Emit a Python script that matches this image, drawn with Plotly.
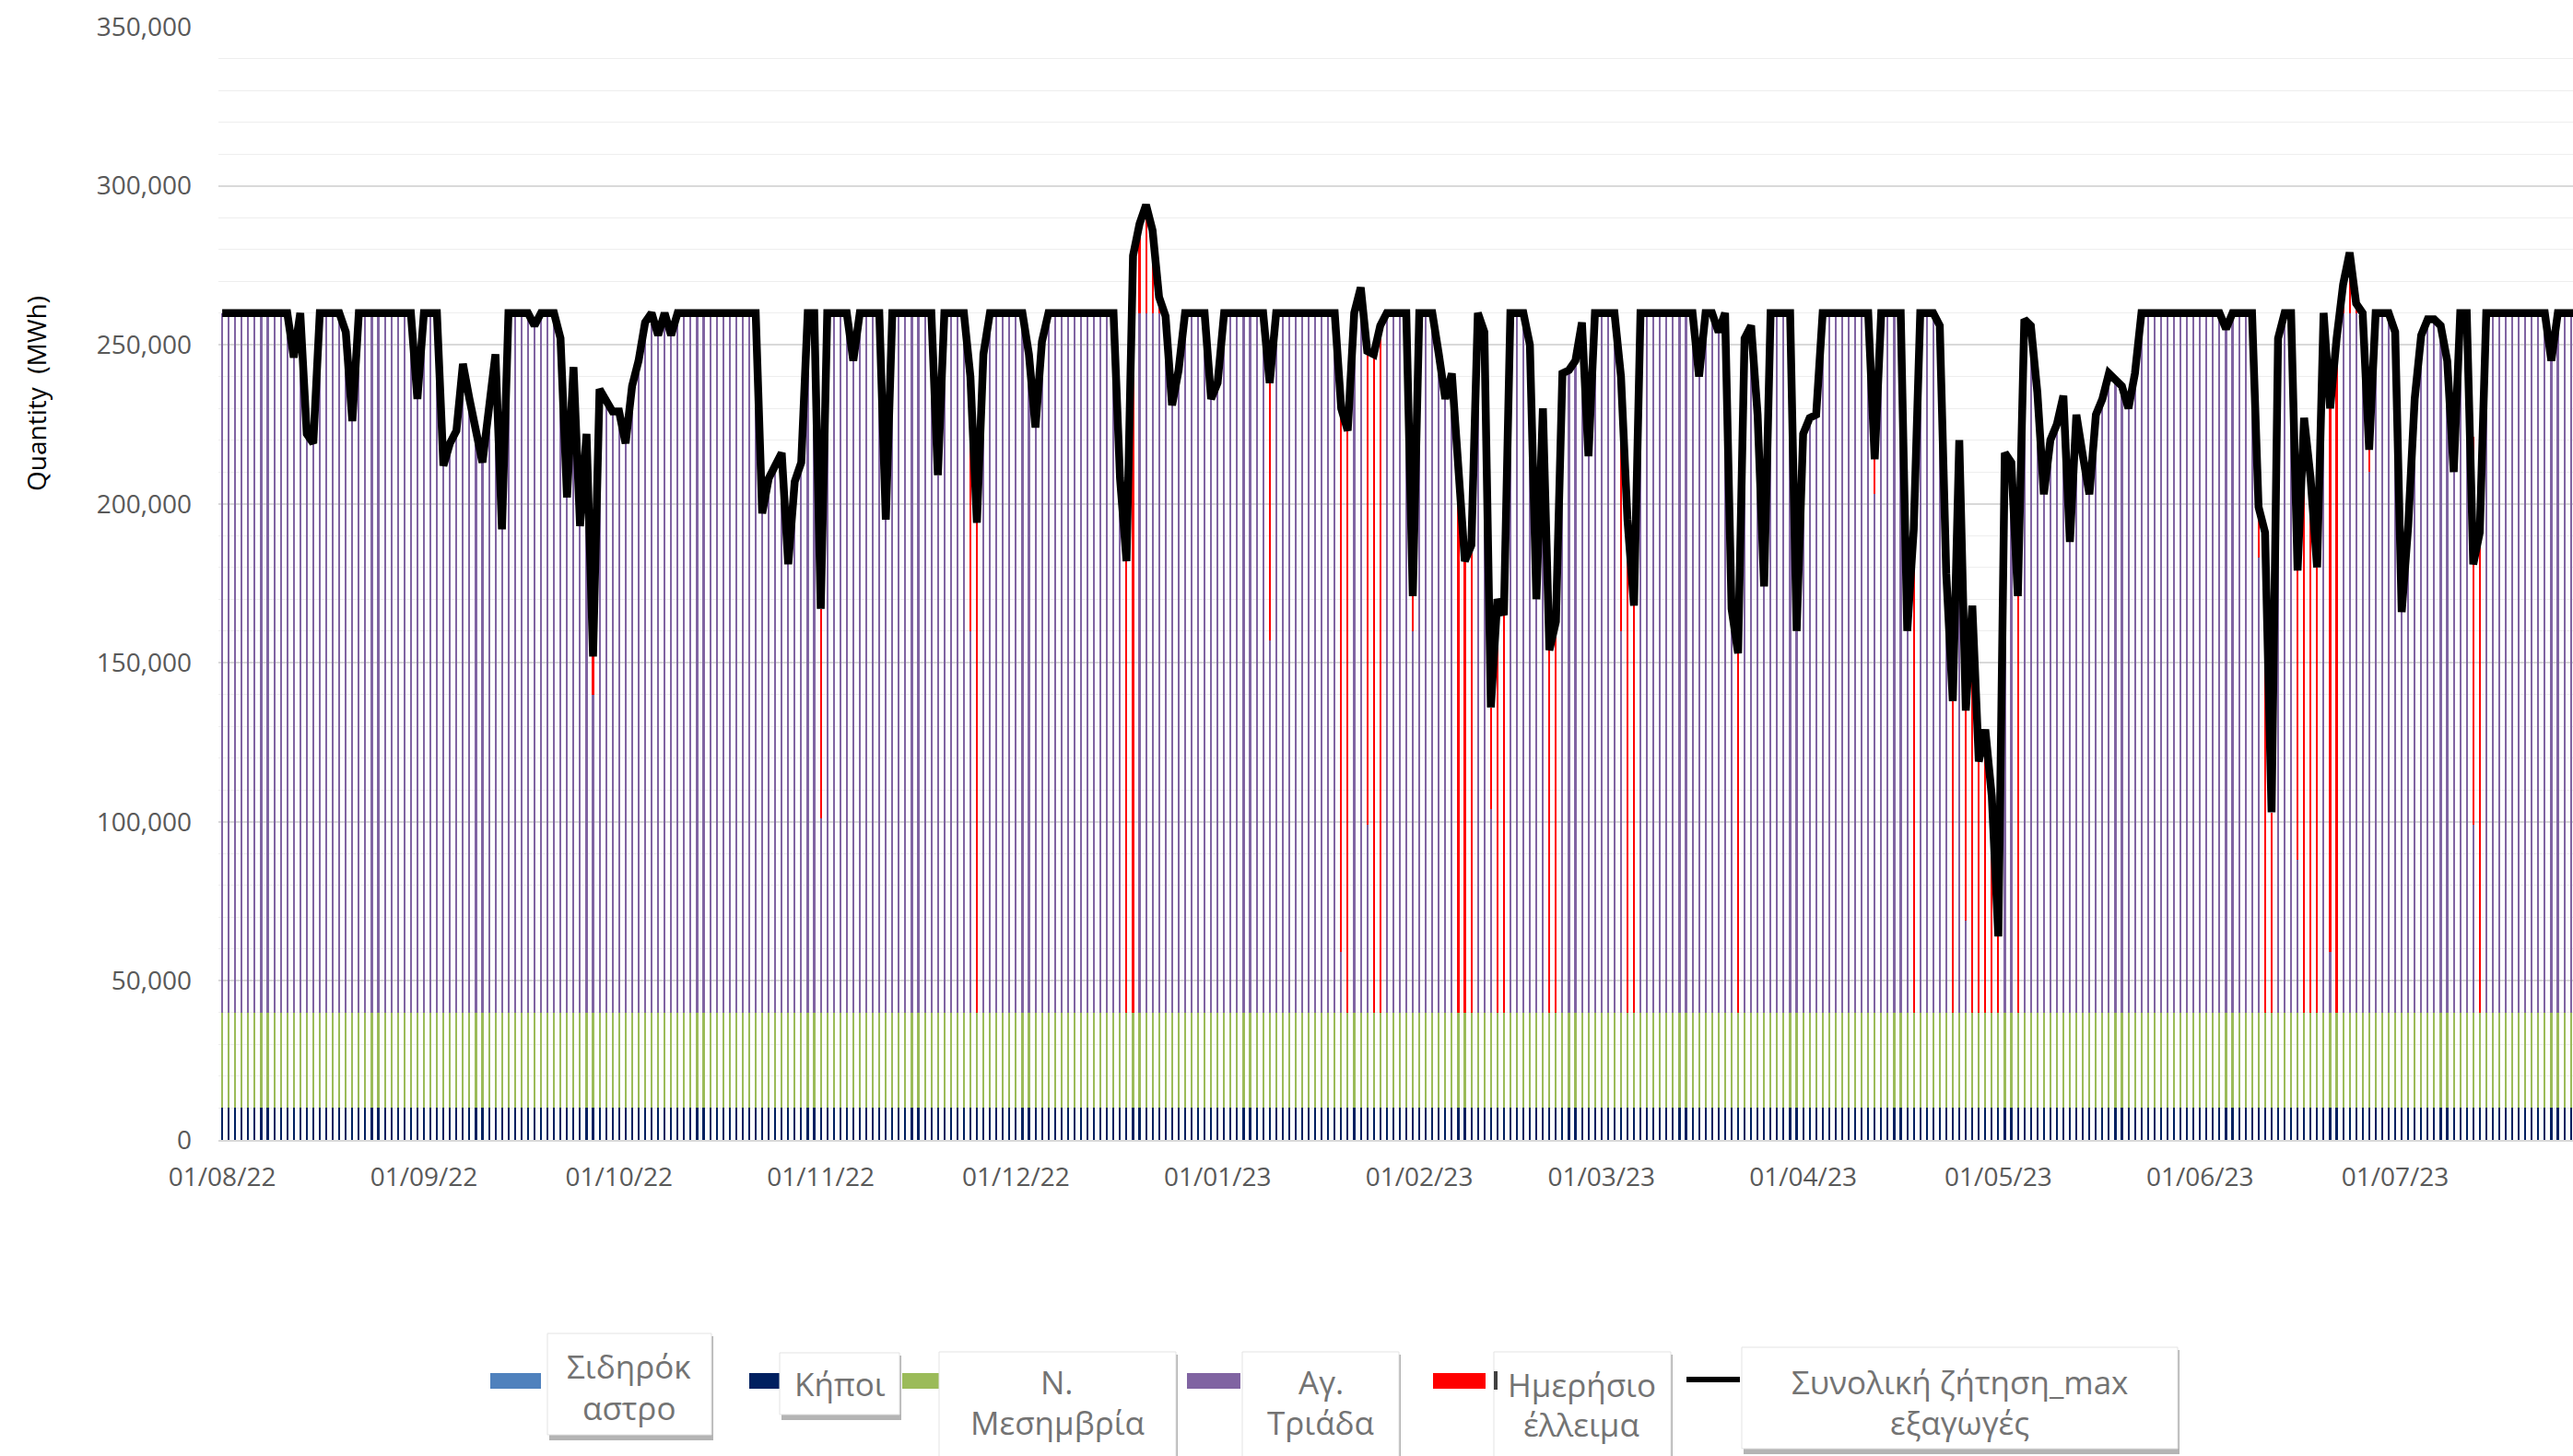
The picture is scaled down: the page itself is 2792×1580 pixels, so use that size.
import plotly.graph_objects as go
import pandas as pd

# ---------------- DATA (thousand MWh, one value per day 01/08/22 .. 31/07/23) ----------------
dates = pd.date_range("2022-08-01", "2023-07-31", freq="D")

# Συνολική ζήτηση_max εξαγωγές
demand_k = [
    # Aug 22
    260, 260, 260, 260, 260, 260, 260, 260, 260, 260, 260,
    246, 260, 222, 219, 260, 260, 260, 260, 254, 226,
    260, 260, 260, 260, 260, 260, 260, 260, 260, 233,
    # Sep 22
    260, 260, 260, 212, 219, 223, 244, 233, 223, 213,
    230, 247, 192, 260, 260, 260, 260, 256, 260, 260,
    260, 252, 202, 243, 193, 222, 152, 236, 233, 229,
    # Oct 22
    229, 219, 237, 245, 257, 260, 253, 260, 253, 260,
    260, 260, 260, 260, 260, 260, 260, 260, 260, 260,
    260, 260, 197, 208, 212, 216, 181, 207, 213, 260,
    260,
    # Nov 22
    167, 260, 260, 260, 260, 245, 260, 260, 260, 260,
    195, 260, 260, 260, 260, 260, 260, 260, 209, 260,
    260, 260, 260, 240, 194, 247, 260, 260, 260, 260,
    # Dec 22
    260, 260, 247, 224, 251, 260, 260, 260, 260, 260,
    260, 260, 260, 260, 260, 260, 208, 182, 278, 288,
    294, 286, 265, 259, 231, 242, 260, 260, 260, 260,
    233,
    # Jan 23
    238, 260, 260, 260, 260, 260, 260, 260, 238, 260,
    260, 260, 260, 260, 260, 260, 260, 260, 260, 230,
    223, 260, 268, 248, 247, 256, 260, 260, 260, 260,
    171,
    # Feb 23
    260, 260, 260, 247, 233, 241, 215, 182, 187, 260,
    254, 136, 170, 165, 260, 260, 260, 250, 170, 230,
    154, 163, 241, 242, 245, 257, 215, 260,
    # Mar 23
    260, 260, 260, 240, 195, 168, 260, 260, 260, 260,
    260, 260, 260, 260, 260, 240, 260, 260, 254, 260,
    167, 153, 252, 256, 228, 174, 260, 260, 260, 260,
    160,
    # Apr 23
    222, 227, 228, 260, 260, 260, 260, 260, 260, 260,
    260, 214, 260, 260, 260, 260, 160, 192, 260, 260,
    260, 256, 178, 138, 220, 135, 168, 119, 129, 108,
    # May 23
    64, 216, 213, 171, 258, 256, 235, 203, 220, 225,
    234, 188, 228, 215, 203, 228, 233, 241, 239, 237,
    230, 241, 260, 260, 260, 260, 260, 260, 260, 260,
    260,
    # Jun 23
    260, 260, 260, 260, 255, 260, 260, 260, 260, 199,
    191, 103, 252, 260, 260, 179, 227, 208, 180, 260,
    230, 252, 269, 279, 263, 260, 217, 260, 260, 260,
    # Jul 23
    254, 166, 193, 233, 253, 258, 258, 256, 245, 210,
    260, 260, 181, 191, 260, 260, 260, 260, 260, 260,
    260, 260, 260, 260, 245, 260, 260, 260, 260, 260,
    260,
]

# Αγ. Τριάδα
agia_triada_k = [
    # Aug 22
    220, 220, 220, 220, 220, 220, 220, 220, 220, 220, 220,
    206, 220, 182, 179, 220, 220, 220, 220, 214, 186,
    220, 220, 220, 220, 220, 220, 220, 220, 220, 193,
    # Sep 22
    220, 220, 220, 172, 179, 183, 204, 193, 183, 173,
    190, 207, 152, 220, 220, 220, 220, 216, 220, 220,
    220, 212, 162, 203, 153, 182, 100, 196, 193, 189,
    # Oct 22
    189, 179, 197, 205, 217, 220, 213, 220, 213, 220,
    220, 220, 220, 220, 220, 220, 220, 220, 220, 220,
    220, 220, 157, 168, 172, 176, 141, 167, 173, 220,
    220,
    # Nov 22
    61, 220, 220, 220, 220, 205, 220, 220, 220, 220,
    155, 220, 220, 220, 220, 220, 220, 220, 169, 220,
    220, 220, 220, 120, 0, 207, 220, 220, 220, 220,
    # Dec 22
    220, 220, 207, 184, 211, 220, 220, 220, 220, 220,
    220, 220, 220, 220, 220, 220, 168, 0, 0, 220,
    220, 220, 220, 219, 191, 202, 220, 220, 220, 220,
    193,
    # Jan 23
    198, 220, 220, 220, 220, 220, 220, 220, 117, 220,
    220, 220, 220, 220, 220, 220, 220, 220, 220, 19,
    0, 220, 220, 59, 0, 0, 220, 220, 220, 220,
    120,
    # Feb 23
    220, 220, 220, 207, 193, 201, 0, 0, 0, 220,
    214, 64, 0, 0, 220, 220, 220, 210, 130, 190,
    0, 0, 201, 202, 205, 217, 175, 220,
    # Mar 23
    220, 220, 220, 120, 0, 0, 220, 220, 220, 220,
    220, 220, 220, 220, 220, 200, 220, 220, 214, 220,
    127, 0, 212, 216, 188, 134, 220, 220, 220, 220,
    120,
    # Apr 23
    182, 187, 188, 220, 220, 220, 220, 220, 220, 220,
    220, 163, 220, 220, 220, 220, 120, 0, 220, 220,
    220, 216, 138, 0, 180, 29, 0, 0, 0, 0,
    # May 23
    0, 176, 173, 0, 218, 216, 195, 163, 180, 185,
    194, 148, 188, 175, 163, 188, 193, 201, 199, 197,
    190, 201, 220, 220, 220, 220, 220, 220, 220, 220,
    220,
    # Jun 23
    220, 220, 220, 220, 215, 220, 220, 220, 220, 143,
    0, 0, 212, 220, 220, 48, 0, 0, 0, 220,
    19, 0, 220, 220, 220, 220, 170, 220, 220, 220,
    # Jul 23
    214, 126, 153, 193, 213, 218, 218, 216, 205, 170,
    220, 220, 59, 0, 220, 220, 220, 220, 220, 220,
    220, 220, 220, 220, 205, 220, 220, 220, 220, 220,
    220,
]

# Ημερήσιο έλλειμα
deficit_k = [
    # Aug 22
    0, 0, 0, 0, 0, 0, 0, 0, 0, 0, 0,
    0, 0, 0, 0, 0, 0, 0, 0, 0, 0,
    0, 0, 0, 0, 0, 0, 0, 0, 0, 0,
    # Sep 22
    0, 0, 0, 0, 0, 0, 0, 0, 0, 0,
    0, 0, 0, 0, 0, 0, 0, 0, 0, 0,
    0, 0, 0, 0, 0, 0, 12, 0, 0, 0,
    # Oct 22
    0, 0, 0, 0, 0, 0, 0, 0, 0, 0,
    0, 0, 0, 0, 0, 0, 0, 0, 0, 0,
    0, 0, 0, 0, 0, 0, 0, 0, 0, 0,
    0,
    # Nov 22
    66, 0, 0, 0, 0, 0, 0, 0, 0, 0,
    0, 0, 0, 0, 0, 0, 0, 0, 0, 0,
    0, 0, 0, 80, 154, 0, 0, 0, 0, 0,
    # Dec 22
    0, 0, 0, 0, 0, 0, 0, 0, 0, 0,
    0, 0, 0, 0, 0, 0, 0, 142, 238, 28,
    34, 26, 5, 0, 0, 0, 0, 0, 0, 0,
    0,
    # Jan 23
    0, 0, 0, 0, 0, 0, 0, 0, 81, 0,
    0, 0, 0, 0, 0, 0, 0, 0, 0, 171,
    183, 0, 8, 149, 207, 216, 0, 0, 0, 0,
    11,
    # Feb 23
    0, 0, 0, 0, 0, 0, 175, 142, 147, 0,
    0, 32, 130, 125, 0, 0, 0, 0, 0, 0,
    114, 123, 0, 0, 0, 0, 0, 0,
    # Mar 23
    0, 0, 0, 80, 155, 128, 0, 0, 0, 0,
    0, 0, 0, 0, 0, 0, 0, 0, 0, 0,
    0, 113, 0, 0, 0, 0, 0, 0, 0, 0,
    0,
    # Apr 23
    0, 0, 0, 0, 0, 0, 0, 0, 0, 0,
    0, 11, 0, 0, 0, 0, 0, 152, 0, 0,
    0, 0, 0, 98, 0, 66, 128, 79, 89, 68,
    # May 23
    24, 0, 0, 131, 0, 0, 0, 0, 0, 0,
    0, 0, 0, 0, 0, 0, 0, 0, 0, 0,
    0, 0, 0, 0, 0, 0, 0, 0, 0, 0,
    0,
    # Jun 23
    0, 0, 0, 0, 0, 0, 0, 0, 0, 16,
    151, 63, 0, 0, 0, 91, 187, 168, 140, 0,
    171, 212, 9, 19, 3, 0, 7, 0, 0, 0,
    # Jul 23
    0, 0, 0, 0, 0, 0, 0, 0, 0, 0,
    0, 0, 122, 151, 0, 0, 0, 0, 0, 0,
    0, 0, 0, 0, 0, 0, 0, 0, 0, 0,
    0,
]

SIDIROKASTRO_MWH = 0       # constant daily value
KIPOI_MWH = 10000          # constant daily value
N_MESIMVRIA_MWH = 30000    # constant daily value

y_ticks = [0, 50000, 100000, 150000, 200000, 250000, 300000, 350000]

names = ["Σιδηρόκαστρο", "Κήποι", "Ν. Μεσημβρία", "Αγ. Τριάδα", "Ημερήσιο έλλειμα",
         "Συνολική ζήτηση_max εξαγωγές"]
colors = ["#4F81BD", "#002060", "#9BBB59", "#8064A2", "#FF0000", "#000000"]

# ---------------- FIGURE ----------------
n = min(len(dates), len(demand_k), len(agia_triada_k), len(deficit_k))
x = dates[:n]
demand = [v * 1000 for v in demand_k[:n]]
agia = [v * 1000 for v in agia_triada_k[:n]]
deficit = [v * 1000 for v in deficit_k[:n]]
sid = [SIDIROKASTRO_MWH] * n
kip = [KIPOI_MWH] * n
mes = [N_MESIMVRIA_MWH] * n

W, H = 2792, 1580
ML, MR, MT, MB = 237, 0, 29, 343
PW = W - ML - MR
PH = H - MT - MB

BAR_W = 0.3 * 86400000  # ms

fig = go.Figure()
for series, nm, col in zip([sid, kip, mes, agia, deficit], names[:5], colors[:5]):
    fig.add_trace(go.Bar(x=x, y=series, name=nm, width=BAR_W,
                         marker=dict(color=col, line=dict(width=0)), showlegend=False))
fig.add_trace(go.Scatter(x=x, y=demand, name=names[5], mode="lines",
                         line=dict(color="#000000", width=8.5), showlegend=False))

TICK_FONT = dict(family="Open Sans, Noto Sans, sans-serif", size=28, color="#595959")

fig.update_layout(
    width=W, height=H,
    margin=dict(l=ML, r=MR, t=MT, b=MB, pad=0),
    paper_bgcolor="white", plot_bgcolor="white",
    barmode="stack",
    showlegend=False,
    xaxis=dict(
        type="date",
        range=["2022-07-31 10:00", "2023-07-28 08:00"],
        tick0="2022-08-01", dtick="M1", tickformat="%d/%m/%y",
        ticks="", showgrid=False, zeroline=False,
        showline=True, linecolor="#D9D9D9", linewidth=2,
        tickfont=TICK_FONT, ticklabelstandoff=14,
    ),
    yaxis=dict(
        range=[0, 350000], tickvals=y_ticks, tickformat=",",
        ticks="", showline=False, zeroline=False,
        showgrid=True, gridcolor="#D9D9D9", gridwidth=1.5,
        minor=dict(dtick=10000, showgrid=True, gridcolor="#EEEEEE", gridwidth=1.2),
        tickfont=TICK_FONT, ticklabelstandoff=28,
    ),
)

def fx(px):
    return (px - ML) / PW

def fy(py):
    return (H - MB - py) / PH

shapes = []
annotations = []

def rect(x0, y0, x1, y1, fill, line_color=None, lw=0):
    shapes.append(dict(type="rect", xref="paper", yref="paper",
                       x0=fx(x0), x1=fx(x1), y0=fy(y1), y1=fy(y0),
                       fillcolor=fill, line=dict(color=line_color or fill, width=lw),
                       layer="above"))

# legend swatches (partly overlapped by the text boxes, as in the original)
swatches = [(532, 1490, 587, 1507), (813, 1490, 846, 1507), (979, 1490, 1019, 1507),
            (1288, 1490, 1346, 1507), (1555, 1490, 1612, 1507), (1830, 1494, 1888, 1500)]
for (a, b, c, d), col in zip(swatches, colors):
    rect(a, b, c, d, col)

boxes = [(594, 1447, 772, 1557), (846, 1468, 976, 1535), (1019, 1467, 1276, 1600),
         (1348, 1467, 1518, 1600), (1621, 1467, 1813, 1600), (1890, 1462, 2363, 1572)]
for (a, b, c, d) in boxes:
    rect(a + 2, b + 3, c + 2, d + 6, "#B4B4B4")
    rect(a, b, c, d, "#FFFFFF", "#E3E3E3", 1)
rect(1621, 1488, 1625, 1508, "#404040")

legend_lines = [
    [("Σιδηρόκ", 682, 1482), ("αστρο", 682, 1527)],
    [("Κήποι", 911, 1501)],
    [("Ν.", 1147, 1499), ("Μεσημβρία", 1147, 1544)],
    [("Αγ.", 1433, 1499), ("Τριάδα", 1433, 1544)],
    [("Ημερήσιο", 1716, 1502), ("έλλειμα", 1716, 1545)],
    [("Συνολική ζήτηση_max", 2126, 1499), ("εξαγωγές", 2126, 1544)],
]
LEG_FONT = dict(family="Open Sans, Noto Sans, sans-serif", size=35, color="#737373")
for item in legend_lines:
    for txt, px, py in item:
        annotations.append(dict(text=txt, xref="paper", yref="paper", x=fx(px), y=fy(py),
                                xanchor="center", yanchor="middle", showarrow=False,
                                font=LEG_FONT))

# y-axis title
annotations.append(dict(text="Quantity  (MWh)", xref="paper", yref="paper",
                        x=fx(39), y=fy(427), xanchor="center", yanchor="middle",
                        textangle=-90, showarrow=False,
                        font=dict(family="Open Sans, Noto Sans, sans-serif", size=28,
                                  color="#000000")))

fig.update_layout(shapes=shapes, annotations=annotations)

fig.write_html("out.html", config={"displayModeBar": False},
               post_script="document.body.style.margin='0';document.body.style.overflow='hidden';")
